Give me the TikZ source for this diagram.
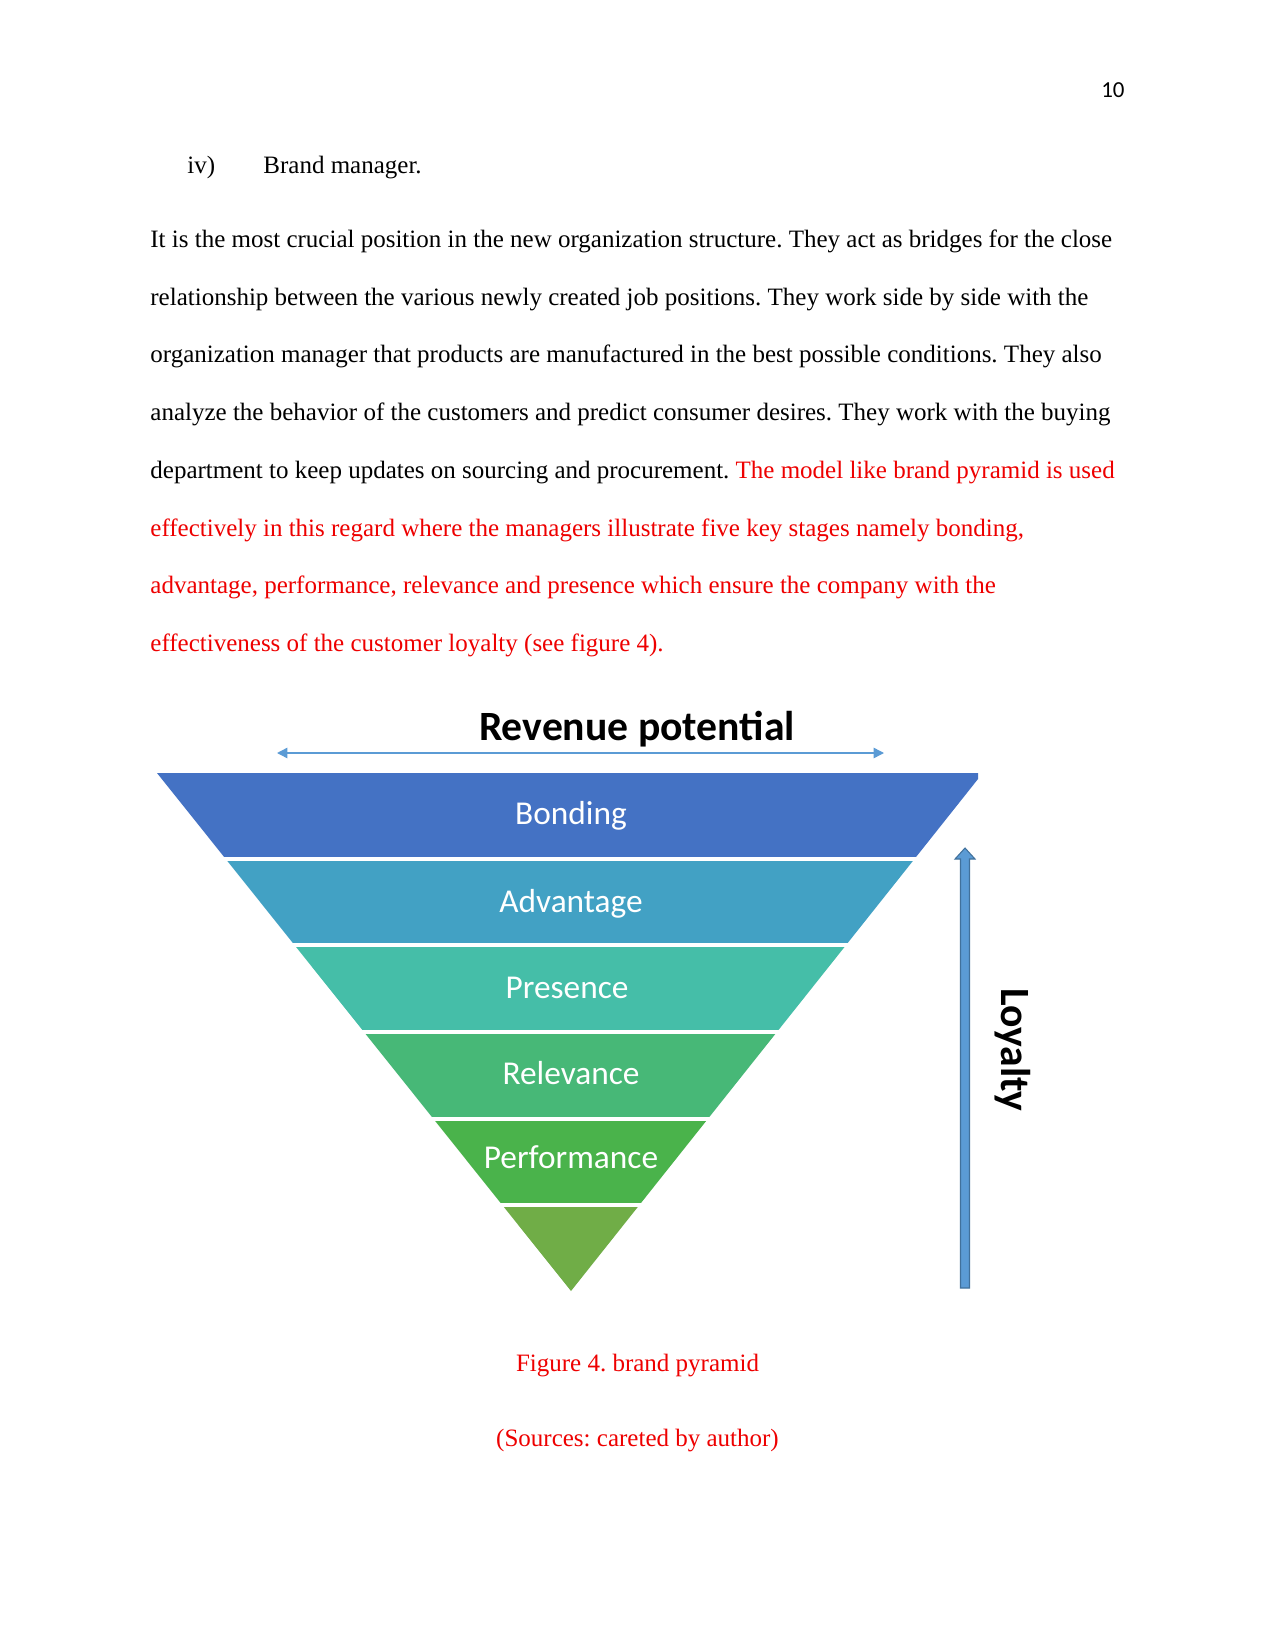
\documentclass[tikz,border=0pt]{standalone}
\usepackage{fontspec}
\setmainfont{Liberation Serif}
\newfontfamily\calfont{Carlito}
\usetikzlibrary{arrows.meta}
\definecolor{cBond}{HTML}{4472C4}
\definecolor{cAdv}{HTML}{42A1C4}
\definecolor{cPres}{HTML}{45BEA8}
\definecolor{cRel}{HTML}{47B877}
\definecolor{cPerf}{HTML}{4AB34B}
\definecolor{cBot}{HTML}{70AD47}
\definecolor{cArrow}{HTML}{5B9BD5}
\definecolor{cArrowDk}{HTML}{41719C}
\definecolor{cRed}{HTML}{EE0000}
\frenchspacing
\begin{document}
\begin{tikzpicture}[x=0.48pt,y=-0.48pt,
  body/.style={anchor=base west,inner sep=0pt,font=\fontsize{12}{14}\selectfont},
  redtext/.style={text=cRed},
  layerlabel/.style={text=white,inner sep=0pt,font=\calfont\fontsize{16}{18}\selectfont},
  bigbold/.style={inner sep=0pt,font=\calfont\bfseries\fontsize{20}{22}\selectfont},
  gap/.style={white,line width=1.5pt}]
\useasboundingbox (0,0) rectangle (1275,1650);
\fill[white] (0,0) rectangle (1275,1650);

% header and body text
\node[anchor=base east,inner sep=0pt,font=\calfont\fontsize{11}{13}\selectfont] (pg) at (1125,98) {10};
\node[body] (iv) at (187,174) {iv)};
\node[body] (bm) at (263,174) {Brand manager.};
\node[body] (l1) at (150,248) {It is the most crucial position in the new organization structure. They act as bridges for the close};
\node[body] (l2) at (150,306) {relationship between the various newly created job positions. They work side by side with the};
\node[body] (l3) at (150,363) {organization manager that products are manufactured in the best possible conditions. They also};
\node[body] (l4) at (150,420) {analyze the behavior of the customers and predict consumer desires. They work with the buying};
\node[body] (l5) at (150,478) {department to keep updates on sourcing and procurement. \textcolor{cRed}{The model like brand pyramid is used}};
\node[body,redtext] (l6) at (150,536) {effectively in this regard where the managers illustrate five key stages namely bonding,};
\node[body,redtext] (l7) at (150,593) {advantage, performance, relevance and presence which ensure the company with the};
\node[body,redtext] (l8) at (150,651) {effectiveness of the customer loyalty (see figure 4).};

% title and revenue arrow
\node[bigbold] (rev) at (637,729) {Revenue potential};
\coordinate (ra) at (277,753);
\coordinate (rb) at (884,753);
\draw[cArrow,line width=0.7pt,{Triangle[length=5pt,width=5pt]}-{Triangle[length=5pt,width=5pt]}] (ra) -- (rb);

% pyramid layers: left edge 157->571, right edge slope 0.795 (clipped at x=978) over y 773->1291
\fill[cBond] (157,773) -- (978,773) -- (978,779) -- ({571+0.795*(1291-859)},859) -- ({571-0.79923*(1291-859)},859) -- cycle;
\foreach \ya/\yb/\col in {859/945/cAdv, 945/1032/cPres, 1032/1119/cRel, 1119/1205/cPerf, 1205/1291/cBot}{
  \pgfmathsetmacro{\la}{571-0.79923*(1291-\ya)}
  \pgfmathsetmacro{\lb}{571-0.79923*(1291-\yb)}
  \pgfmathsetmacro{\ra}{571+0.795*(1291-\ya)}
  \pgfmathsetmacro{\rb}{571+0.795*(1291-\yb)}
  \fill[\col] (\la,\ya) -- (\ra,\ya) -- (\rb,\yb) -- (\lb,\yb) -- cycle;
}
\foreach \yy in {859,945,1032,1119,1205}{
  \draw[gap] (140,\yy) -- (1000,\yy);
}
\node[layerlabel] (bond) at (571,816) {Bonding};
\node[layerlabel] (adv) at (571,904) {Advantage};
\node[layerlabel] (pres) at (567,988) {Presence};
\node[layerlabel] (rel) at (571,1073) {Relevance};
\node[layerlabel] (perf) at (571,1157) {Performance};

% loyalty arrow
\fill[cArrow,draw=cArrowDk,line width=0.5pt]
  (960.5,1288) -- (960.5,859) -- (955,859) -- (965,848) -- (975,859) -- (969.5,859) -- (969.5,1288) -- cycle;
\node[bigbold,rotate=-90] (loy) at (1013,1050) {Loyalty};

% caption
\node[anchor=base,inner sep=0pt,text=cRed,font=\fontsize{12}{14}\selectfont] (cap1) at (637.5,1371) {Figure 4. brand pyramid};
\node[anchor=base,inner sep=0pt,text=cRed,font=\fontsize{12}{14}\selectfont] (cap2) at (637.5,1446) {(Sources: careted by author)};
\end{tikzpicture}
\end{document}
